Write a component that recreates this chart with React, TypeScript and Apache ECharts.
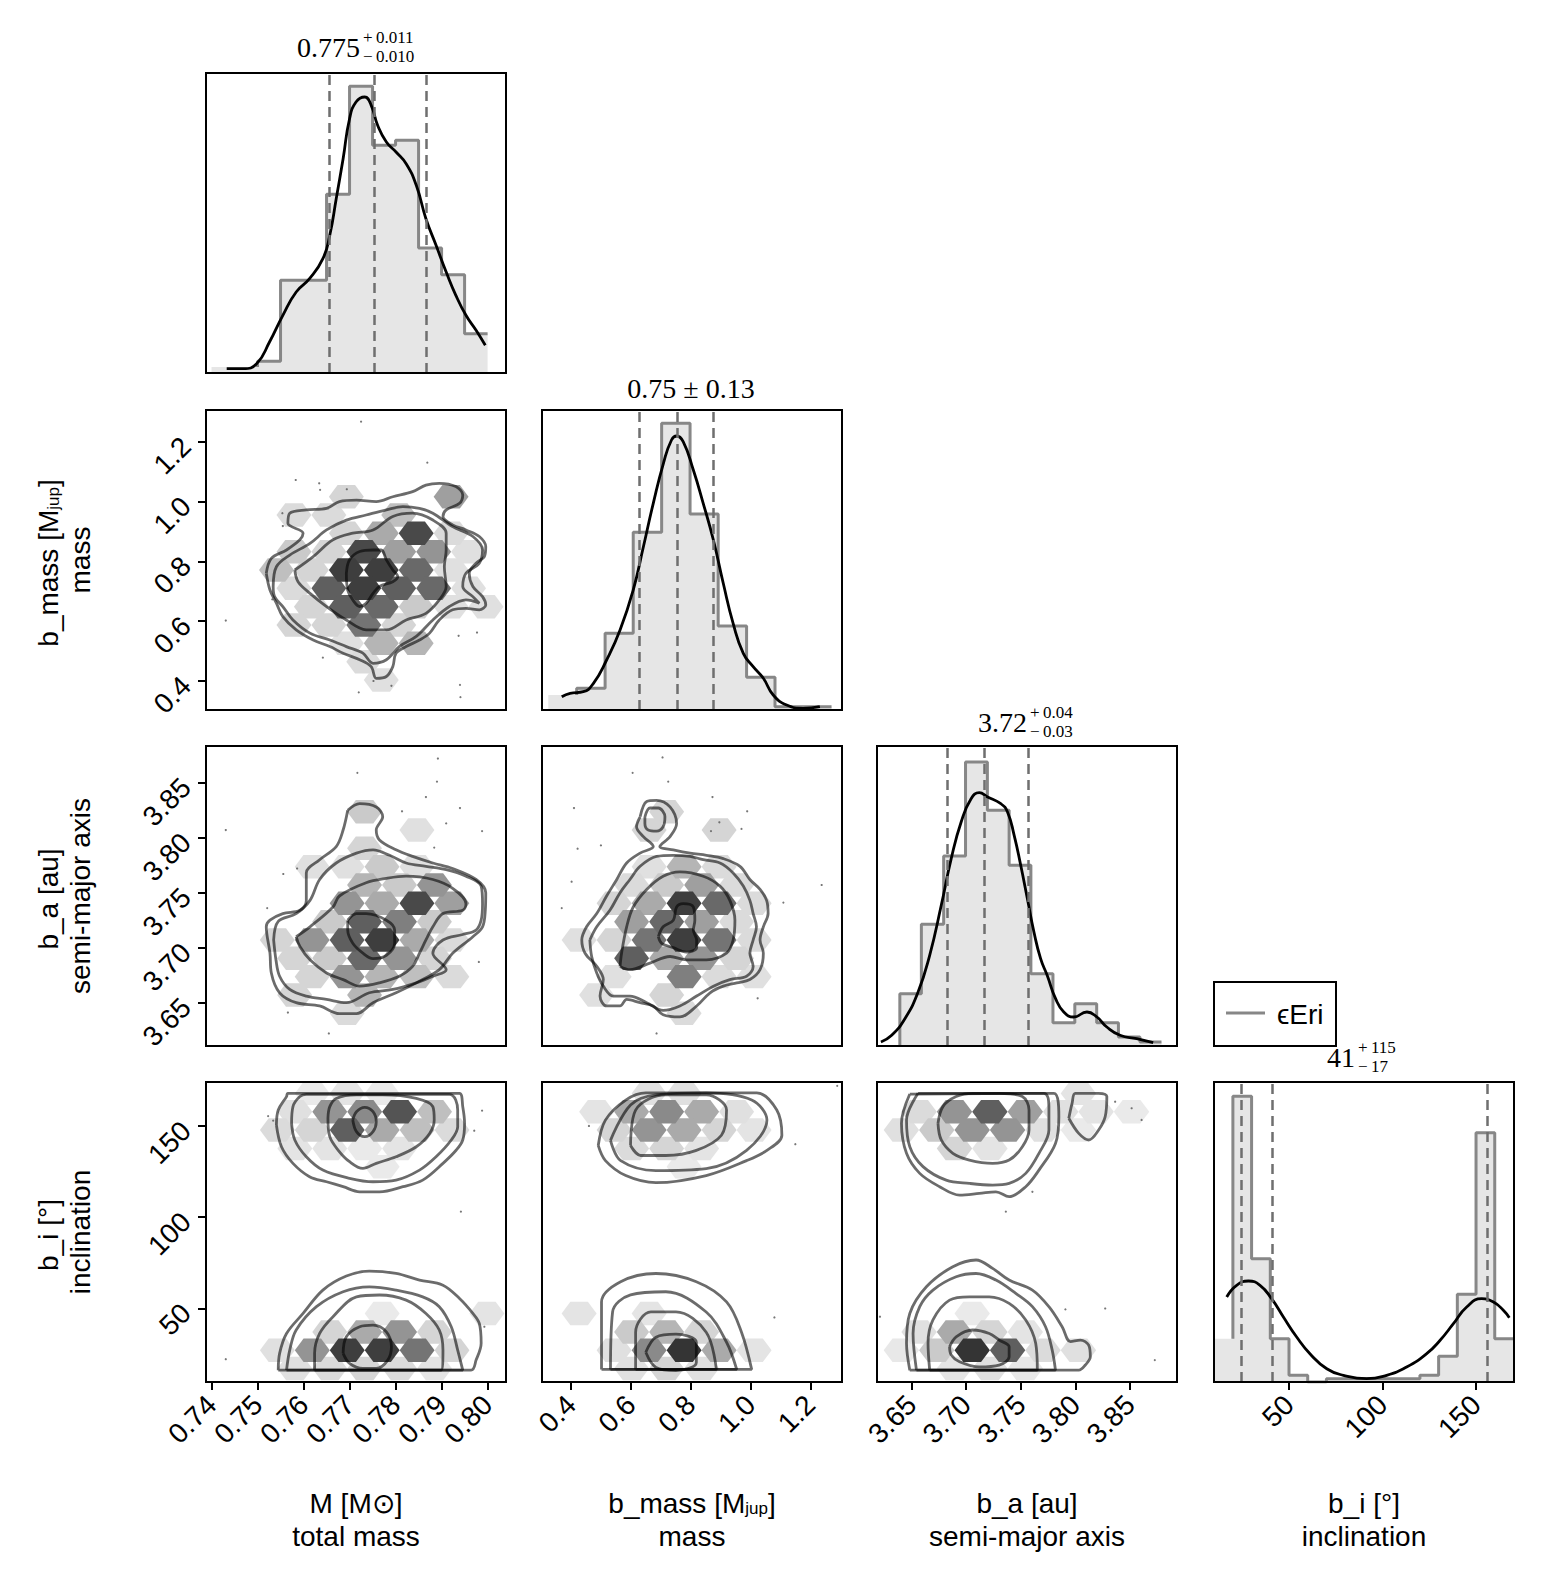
import React, { useEffect, useRef } from "react";
import * as echarts from "echarts";

const FONT = '"Liberation Sans", Arial, Helvetica, sans-serif';
const SERIF = '"Liberation Serif", "Times New Roman", serif';

// ---------------- axis limits ----------------
const M_LIM = [0.7388, 0.804];
const MASS_LIM = [0.303, 1.306];
const A_LIM_X = [3.6185, 3.893];
const A_LIM_Y = [3.6106, 3.8834];
const I_LIM_X = [9.9, 170.3];
const I_LIM_Y = [9.6, 174.1];
const HIST_LIM = [0, 300];

// ---------------- tick values ----------------
const M_TICKS = [0.74, 0.75, 0.76, 0.77, 0.78, 0.79, 0.8];
const MASS_TICKS = [0.4, 0.6, 0.8, 1.0, 1.2];
const A_TICKS = [3.65, 3.7, 3.75, 3.8, 3.85];
const I_TICKS = [50, 100, 150];

// ---------------- 1D histograms ----------------
const M_EDGES = [0.74, 0.745, 0.75, 0.755, 0.76, 0.765, 0.77, 0.775, 0.78, 0.785, 0.79, 0.795, 0.8];
const M_COUNTS = [6, 6, 11.7, 92.7, 92.7, 178.7, 286.7, 227.7, 232.7, 125, 98.3, 39.3];
const M_QUANT = [0.7655, 0.7753, 0.7866];
const M_KDE = [[0.7433, 4.3], [0.7469, 4.3], [0.7498, 9.3], [0.7526, 31], [0.7555, 57.7], [0.7584, 81], [0.7613, 94.3], [0.7642, 114.3], [0.7657, 137.7], [0.7671, 174.3], [0.7686, 214.3], [0.77, 254.3], [0.7714, 271], [0.7733, 276], [0.7747, 267.7], [0.7761, 247.7], [0.778, 231], [0.7801, 221], [0.7823, 209.3], [0.7845, 187.7], [0.7866, 154.3], [0.7888, 127.7], [0.791, 101], [0.7931, 77.7], [0.7953, 57.7], [0.7975, 42.7], [0.7995, 27.7]];

const MASS_EDGES = [0.324, 0.419, 0.514, 0.608, 0.703, 0.798, 0.892, 0.987, 1.082, 1.176, 1.271];
const MASS_COUNTS = [15, 21.7, 76.7, 177.7, 286.7, 196, 84, 32.7, 3.3, 3.3];
const MASS_QUANT = [0.628, 0.755, 0.8755];
const MASS_KDE = [[0.369, 13.3], [0.397, 16.7], [0.441, 18.3], [0.475, 26.7], [0.519, 50], [0.564, 80], [0.608, 120], [0.642, 163.3], [0.675, 206.7], [0.709, 246.7], [0.736, 270], [0.753, 274], [0.775, 268.3], [0.809, 240], [0.842, 206.7], [0.876, 170], [0.909, 126.7], [0.942, 86.7], [0.976, 56.7], [1.009, 43.3], [1.043, 31.7], [1.076, 15], [1.121, 5], [1.176, 1.7], [1.232, 3.3]];

const A_EDGES = [3.6197, 3.6394, 3.6591, 3.6795, 3.6995, 3.7195, 3.7394, 3.7593, 3.7795, 3.7995, 3.8195, 3.8394, 3.8591, 3.8788];
const A_COUNTS = [0, 52.3, 121.7, 190, 284, 235.7, 180.7, 72.3, 23.3, 42.3, 23.3, 9, 4];
const A_QUANT = [3.683, 3.717, 3.757];
const A_KDE = [[3.6221, 4], [3.6319, 10.7], [3.644, 27.3], [3.6561, 54], [3.6667, 90.7], [3.6773, 140.7], [3.6864, 187.3], [3.6955, 224], [3.7046, 247.3], [3.7121, 253.3], [3.7197, 249], [3.7318, 242.3], [3.7379, 234], [3.744, 210.7], [3.75, 180.7], [3.7561, 147.3], [3.7621, 114], [3.7682, 87.3], [3.7742, 70.7], [3.7819, 47.3], [3.7894, 34], [3.7985, 29], [3.8106, 34], [3.8197, 29], [3.8288, 19], [3.8409, 10.7], [3.8561, 7.3], [3.8712, 3.3]];

const I_EDGES = [10, 20, 30, 40, 50, 60, 70, 80, 90, 100, 110, 120, 130, 140, 150, 160, 170];
const I_COUNTS = [43.3, 285.7, 123.3, 43.3, 6.7, 0, 3.3, 3.3, 3.3, 3.3, 3.3, 6.7, 25.7, 87.7, 249.3, 43.3];
const I_QUANT = [24.3, 41.3, 156.1];
const I_KDE = [[16.7, 85], [22.0, 96.7], [28.3, 101], [34.5, 96.7], [40.7, 83.3], [47.0, 65], [54.1, 45], [61.2, 28.3], [70.2, 13.3], [79.1, 6.7], [91.5, 3.3], [102.2, 6.7], [112.9, 15], [123.6, 28.3], [130.8, 41.7], [137.9, 58.3], [145.0, 75], [153.0, 83.3], [159.3, 80], [164.6, 71.7], [167.8, 64.3]];

// ---------------- hexbin grids (bin geometry in data units) and cells [col, row, density] ----------------
const HEXGRID_10 = { x0: 0.7693, dx: 0.00759, y0: 1.0163, dy: 0.0613 };
const HEX_10 = [[0, 0, 0.15], [3, 0, 0.4], [-2, 1, 0.12], [-1, 1, 0.12], [1, 1, 0.25], [0, 2, 0.15], [1, 2, 0.35], [2, 2, 0.8], [3, 2, 0.12], [-2, 3, 0.2], [-1, 3, 0.15], [0, 3, 0.8], [1, 3, 0.4], [2, 3, 0.45], [3, 3, 0.1], [-2, 4, 0.25], [-1, 4, 0.15], [0, 4, 0.85], [1, 4, 0.85], [2, 4, 0.65], [3, 4, 0.1], [-2, 5, 0.12], [-1, 5, 0.7], [0, 5, 0.85], [1, 5, 0.7], [2, 5, 0.65], [3, 5, 0.1], [-1, 6, 0.15], [0, 6, 0.7], [1, 6, 0.65], [2, 6, 0.2], [3, 6, 0.1], [4, 6, 0.1], [-2, 7, 0.15], [-1, 7, 0.15], [0, 7, 0.6], [1, 7, 0.15], [0, 8, 0.1], [1, 8, 0.3], [2, 8, 0.3], [0, 9, 0.12], [1, 10, 0.1]];

const HEXGRID_20 = { x0: 0.77326, dx: 0.00759, y0: 3.8237, dy: 0.01667 };
const HEX_20 = [[0, 0, 0.2], [1, 1, 0.1], [0, 2, 0.15], [-2, 3, 0.1], [-1, 3, 0.1], [0, 3, 0.2], [1, 3, 0.1], [0, 4, 0.3], [1, 4, 0.2], [2, 4, 0.45], [-1, 5, 0.45], [0, 5, 0.35], [1, 5, 0.8], [2, 5, 0.4], [-1, 6, 0.2], [0, 6, 0.7], [1, 6, 0.55], [2, 6, 0.2], [-3, 7, 0.15], [-2, 7, 0.45], [-1, 7, 0.7], [0, 7, 0.85], [1, 7, 0.35], [2, 7, 0.12], [-2, 8, 0.15], [-1, 8, 0.2], [0, 8, 0.65], [1, 8, 0.45], [2, 8, 0.15], [-2, 9, 0.15], [-1, 9, 0.45], [0, 9, 0.3], [1, 9, 0.25], [2, 9, 0.12], [-2, 10, 0.15], [0, 10, 0.3], [-1, 11, 0.12]];

const HEXGRID_21 = { x0: 0.7196, dx: 0.117, y0: 3.8237, dy: 0.01667 };
const HEX_21 = [[0, 0, 0.15], [-1, 1, 0.15], [1, 1, 0.15], [-1, 3, 0.1], [0, 3, 0.3], [1, 3, 0.12], [-1, 4, 0.12], [0, 4, 0.2], [1, 4, 0.4], [2, 4, 0.12], [-2, 5, 0.15], [-1, 5, 0.35], [0, 5, 0.85], [1, 5, 0.65], [2, 5, 0.12], [-1, 6, 0.4], [0, 6, 0.65], [1, 6, 0.4], [2, 6, 0.12], [-3, 7, 0.1], [-2, 7, 0.15], [-1, 7, 0.6], [0, 7, 0.85], [1, 7, 0.6], [2, 7, 0.12], [-1, 8, 0.7], [0, 8, 0.35], [1, 8, 0.45], [2, 8, 0.15], [-2, 9, 0.1], [0, 9, 0.55], [1, 9, 0.12], [2, 9, 0.1], [-2, 10, 0.1], [0, 10, 0.15], [0, 11, 0.12]];

const HEXGRID_30 = { x0: 0.7657, dx: 0.00759, y0: 157.8, dy: 10.06 };
const HEX_30 = [[-1, -1, 0.05], [0, -1, 0.08], [1, -1, 0.05], [-1, 0, 0.1], [0, 0, 0.45], [1, 0, 0.5], [2, 0, 0.75], [3, 0, 0.25], [-2, 1, 0.12], [-1, 1, 0.15], [0, 1, 0.7], [1, 1, 0.35], [2, 1, 0.25], [3, 1, 0.12], [-1, 2, 0.08], [0, 2, 0.08], [1, 2, 0.05], [2, 2, 0.08], [1, 3, 0.05], [1, 11, 0.05], [4, 11, 0.08], [0, 12, 0.15], [1, 12, 0.35], [2, 12, 0.45], [3, 12, 0.15], [-2, 13, 0.1], [-1, 13, 0.45], [0, 13, 0.85], [1, 13, 0.85], [2, 13, 0.6], [3, 13, 0.15], [-1, 14, 0.1], [0, 14, 0.12], [1, 14, 0.15], [2, 14, 0.12], [3, 14, 0.08]];

const HEXGRID_31 = { x0: 0.7196, dx: 0.117, y0: 157.8, dy: 10.06 };
const HEX_31 = [[-1, -1, 0.1], [0, -1, 0.1], [-2, 0, 0.08], [-1, 0, 0.35], [0, 0, 0.5], [1, 0, 0.35], [2, 0, 0.1], [-2, 1, 0.15], [-1, 1, 0.45], [0, 1, 0.35], [1, 1, 0.15], [2, 1, 0.08], [-1, 2, 0.12], [0, 2, 0.15], [1, 2, 0.08], [0, 3, 0.05], [-3, 11, 0.08], [-1, 11, 0.08], [-1, 12, 0.2], [0, 12, 0.3], [1, 12, 0.15], [-2, 13, 0.1], [-1, 13, 0.5], [0, 13, 0.9], [1, 13, 0.35], [2, 13, 0.08], [-1, 14, 0.1], [0, 14, 0.15], [1, 14, 0.1]];

const HEXGRID_32 = { x0: 3.7218, dx: 0.0324, y0: 157.8, dy: 10.06 };
const HEX_32 = [[2, -1, 0.08], [-2, 0, 0.12], [-1, 0, 0.45], [0, 0, 0.7], [1, 0, 0.4], [2, 0, 0.1], [3, 0, 0.08], [4, 0, 0.05], [-3, 1, 0.1], [-2, 1, 0.2], [-1, 1, 0.45], [0, 1, 0.45], [1, 1, 0.1], [2, 1, 0.05], [-1, 2, 0.15], [0, 2, 0.08], [-1, 11, 0.05], [-2, 12, 0.1], [-1, 12, 0.35], [0, 12, 0.15], [1, 12, 0.08], [-3, 13, 0.06], [-2, 13, 0.2], [-1, 13, 0.9], [0, 13, 0.7], [1, 13, 0.12], [2, 13, 0.1], [-1, 14, 0.08], [0, 14, 0.1], [1, 14, 0.06]];

// ---------------- contour loops ----------------
const CONT_10 = [
  [[0.7519, 0.76], [0.753, 0.81], [0.7563, 0.838], [0.7592, 0.872], [0.7599, 0.894], [0.7566, 0.927], [0.757, 0.961], [0.7606, 0.972], [0.765, 0.977], [0.7678, 1.0], [0.7715, 1.005], [0.7758, 1.0], [0.7794, 1.016], [0.7837, 1.033], [0.7866, 1.055], [0.7895, 1.061], [0.7931, 1.05], [0.7946, 1.022], [0.7939, 0.994], [0.791, 0.972], [0.7903, 0.95], [0.7924, 0.922], [0.7953, 0.905], [0.7982, 0.883], [0.7996, 0.849], [0.7993, 0.816], [0.7975, 0.794], [0.796, 0.76], [0.7968, 0.716], [0.7989, 0.682], [0.7996, 0.654], [0.7982, 0.638], [0.7953, 0.643], [0.7924, 0.638], [0.7895, 0.604], [0.7874, 0.56], [0.7852, 0.537], [0.7823, 0.515], [0.7801, 0.493], [0.7794, 0.448], [0.778, 0.415], [0.7758, 0.409], [0.7747, 0.448], [0.7722, 0.471], [0.7686, 0.493], [0.7657, 0.515], [0.7621, 0.537], [0.7584, 0.571], [0.7555, 0.615], [0.7541, 0.66], [0.7527, 0.704]],
  [[0.7534, 0.716], [0.7541, 0.782], [0.757, 0.821], [0.7614, 0.86], [0.765, 0.905], [0.7693, 0.938], [0.7736, 0.955], [0.778, 0.972], [0.7816, 0.983], [0.7852, 0.977], [0.7881, 0.961], [0.7924, 0.916], [0.7968, 0.883], [0.7989, 0.838], [0.7982, 0.794], [0.7953, 0.76], [0.7946, 0.716], [0.7968, 0.682], [0.7982, 0.66], [0.7953, 0.671], [0.7917, 0.649], [0.7881, 0.604], [0.7845, 0.549], [0.7808, 0.515], [0.778, 0.471], [0.7751, 0.459], [0.7729, 0.493], [0.7693, 0.515], [0.7657, 0.537], [0.7614, 0.56], [0.7577, 0.604], [0.7555, 0.649], [0.7537, 0.682]],
  [[0.7581, 0.771], [0.7621, 0.816], [0.7664, 0.872], [0.7707, 0.894], [0.7751, 0.905], [0.7794, 0.95], [0.7837, 0.961], [0.7881, 0.938], [0.791, 0.894], [0.791, 0.838], [0.7906, 0.782], [0.791, 0.716], [0.7895, 0.671], [0.7866, 0.626], [0.7823, 0.604], [0.778, 0.571], [0.7736, 0.571], [0.7693, 0.604], [0.765, 0.649], [0.7614, 0.693], [0.7588, 0.732]],
  [[0.7693, 0.76], [0.77, 0.805], [0.7722, 0.833], [0.7751, 0.838], [0.7769, 0.838], [0.778, 0.805], [0.7794, 0.771], [0.7805, 0.749], [0.7794, 0.732], [0.7765, 0.716], [0.7751, 0.693], [0.7736, 0.66], [0.7722, 0.649], [0.7707, 0.671], [0.7696, 0.704]],
];

const CONT_20 = [
  [[0.7696, 3.825], [0.7722, 3.831], [0.7758, 3.828], [0.7772, 3.819], [0.7758, 3.807], [0.7765, 3.798], [0.7801, 3.789], [0.7837, 3.783], [0.7881, 3.777], [0.7924, 3.772], [0.7975, 3.762], [0.7996, 3.75], [0.7995, 3.734], [0.7989, 3.719], [0.7968, 3.71], [0.7924, 3.695], [0.7895, 3.68], [0.7845, 3.668], [0.7801, 3.659], [0.7751, 3.65], [0.7715, 3.64], [0.7678, 3.64], [0.7635, 3.647], [0.7584, 3.65], [0.7548, 3.659], [0.753, 3.677], [0.7527, 3.695], [0.7519, 3.719], [0.7527, 3.725], [0.7555, 3.731], [0.7592, 3.734], [0.7606, 3.743], [0.7606, 3.768], [0.7635, 3.78], [0.7671, 3.792], [0.7686, 3.807]],
  [[0.7535, 3.707], [0.7545, 3.724], [0.7584, 3.731], [0.7614, 3.743], [0.7635, 3.762], [0.7671, 3.777], [0.7715, 3.786], [0.7751, 3.789], [0.7787, 3.784], [0.7823, 3.777], [0.7866, 3.774], [0.791, 3.771], [0.7953, 3.765], [0.7986, 3.756], [0.7989, 3.74], [0.7986, 3.725], [0.7975, 3.716], [0.7946, 3.712], [0.7903, 3.707], [0.7881, 3.695], [0.791, 3.68], [0.7881, 3.674], [0.7845, 3.668], [0.7794, 3.662], [0.7743, 3.659], [0.7693, 3.65], [0.765, 3.653], [0.7606, 3.656], [0.757, 3.662], [0.7548, 3.674], [0.754, 3.689]],
  [[0.7584, 3.71], [0.7614, 3.719], [0.7664, 3.737], [0.7678, 3.747], [0.7736, 3.759], [0.778, 3.763], [0.7823, 3.765], [0.7881, 3.762], [0.7924, 3.754], [0.7953, 3.74], [0.7946, 3.734], [0.7903, 3.731], [0.7881, 3.719], [0.7866, 3.707], [0.7852, 3.695], [0.7837, 3.683], [0.7808, 3.674], [0.7765, 3.668], [0.7722, 3.665], [0.7686, 3.671], [0.765, 3.677], [0.7614, 3.689], [0.7592, 3.701]],
  [[0.7696, 3.725], [0.7715, 3.731], [0.7736, 3.731], [0.778, 3.725], [0.7798, 3.716], [0.7798, 3.704], [0.778, 3.693], [0.7751, 3.69], [0.7729, 3.695], [0.7707, 3.704], [0.7696, 3.716]],
];

const CONT_21 = [
  [[0.631, 3.819], [0.653, 3.833], [0.686, 3.834], [0.731, 3.828], [0.753, 3.813], [0.731, 3.801], [0.697, 3.792], [0.742, 3.789], [0.798, 3.786], [0.853, 3.784], [0.909, 3.781], [0.965, 3.774], [0.998, 3.762], [1.032, 3.753], [1.054, 3.743], [1.059, 3.731], [1.043, 3.719], [1.032, 3.707], [1.043, 3.695], [1.032, 3.68], [0.998, 3.671], [0.954, 3.668], [0.909, 3.665], [0.865, 3.659], [0.82, 3.647], [0.764, 3.637], [0.708, 3.639], [0.675, 3.647], [0.631, 3.65], [0.586, 3.653], [0.564, 3.647], [0.519, 3.647], [0.497, 3.656], [0.508, 3.671], [0.486, 3.683], [0.447, 3.695], [0.436, 3.707], [0.452, 3.719], [0.486, 3.731], [0.519, 3.747], [0.553, 3.762], [0.586, 3.777], [0.631, 3.786], [0.675, 3.792], [0.642, 3.801], [0.619, 3.81]],
  [[0.463, 3.707], [0.486, 3.719], [0.53, 3.734], [0.564, 3.75], [0.597, 3.762], [0.631, 3.774], [0.686, 3.783], [0.742, 3.784], [0.798, 3.783], [0.842, 3.78], [0.898, 3.777], [0.942, 3.768], [0.976, 3.756], [0.998, 3.743], [1.009, 3.731], [1.02, 3.719], [1.009, 3.707], [0.998, 3.695], [1.009, 3.683], [0.987, 3.674], [0.931, 3.671], [0.876, 3.665], [0.82, 3.656], [0.764, 3.647], [0.708, 3.643], [0.653, 3.65], [0.597, 3.656], [0.541, 3.656], [0.508, 3.665], [0.486, 3.677], [0.469, 3.692]],
  [[0.647, 3.819], [0.664, 3.827], [0.692, 3.827], [0.714, 3.819], [0.708, 3.81], [0.686, 3.806], [0.658, 3.807], [0.647, 3.813]],
  [[0.564, 3.683], [0.569, 3.695], [0.586, 3.719], [0.608, 3.737], [0.653, 3.753], [0.708, 3.765], [0.764, 3.769], [0.842, 3.765], [0.898, 3.756], [0.931, 3.743], [0.948, 3.725], [0.942, 3.707], [0.92, 3.695], [0.853, 3.689], [0.786, 3.689], [0.731, 3.692], [0.664, 3.686], [0.597, 3.68]],
  [[0.692, 3.71], [0.708, 3.719], [0.742, 3.725], [0.753, 3.737], [0.775, 3.74], [0.809, 3.737], [0.814, 3.725], [0.809, 3.716], [0.82, 3.707], [0.82, 3.7], [0.786, 3.696], [0.742, 3.7], [0.703, 3.704]],
];

const CONT_30 = [
  [[0.7541, 150.5], [0.7545, 158.7], [0.7563, 166.1], [0.7566, 167.9], [0.7939, 167.9], [0.7946, 160.6], [0.795, 151.4], [0.7946, 142.3], [0.7932, 136.8], [0.7903, 129.5], [0.7859, 120.3], [0.7816, 116.7], [0.7765, 113.9], [0.7722, 113.9], [0.7686, 116.7], [0.765, 119.4], [0.7613, 122.2], [0.7577, 129.5], [0.7552, 138.6]],
  [[0.7574, 151.4], [0.7577, 160.6], [0.7592, 166.1], [0.7606, 167.3], [0.7917, 167.3], [0.7935, 158.7], [0.7935, 149.6], [0.7921, 142.3], [0.7888, 133.1], [0.7852, 125.8], [0.7801, 120.3], [0.7751, 119.4], [0.77, 121.3], [0.7642, 125.8], [0.7606, 133.1], [0.7581, 142.3]],
  [[0.7653, 154.2], [0.7657, 160.6], [0.7671, 165.1], [0.7715, 167.0], [0.7772, 167.0], [0.7845, 165.1], [0.7881, 160.6], [0.7884, 153.3], [0.7874, 145.9], [0.7845, 138.6], [0.7801, 133.1], [0.7758, 129.5], [0.7729, 126.7], [0.77, 130.4], [0.7675, 136.8], [0.7657, 144.1]],
  [[0.7707, 153.3], [0.7715, 157.8], [0.7733, 160.2], [0.7751, 157.8], [0.7758, 152.3], [0.7751, 146.9], [0.7733, 144.1], [0.7715, 146.9]],
  [[0.7545, 16.1], [0.7548, 25.3], [0.7563, 36.2], [0.7599, 47.2], [0.7642, 60.0], [0.7693, 67.7], [0.7743, 70.4], [0.7801, 69.1], [0.7852, 65.5], [0.7903, 62.7], [0.7939, 55.4], [0.7968, 47.2], [0.7982, 41.7], [0.7986, 30.8], [0.7975, 21.6], [0.7964, 16.1]],
  [[0.7563, 16.1], [0.757, 27.1], [0.7584, 38.1], [0.7628, 50.9], [0.7686, 59.1], [0.7743, 61.8], [0.7801, 60.0], [0.7859, 56.3], [0.7895, 50.9], [0.7921, 39.9], [0.7935, 27.1], [0.7946, 16.1]],
  [[0.7624, 16.1], [0.7624, 25.3], [0.7635, 36.2], [0.7664, 45.4], [0.7715, 56.3], [0.7765, 57.3], [0.7823, 54.5], [0.7866, 47.2], [0.7895, 38.1], [0.7903, 27.1], [0.7899, 16.1]],
  [[0.7686, 25.3], [0.7693, 34.4], [0.7722, 39.9], [0.7751, 40.8], [0.778, 37.1], [0.7791, 28.9], [0.7783, 21.6], [0.7758, 17.0], [0.7729, 17.0], [0.77, 19.8]],
];

const CONT_31 = [
  [[0.491, 139.3], [0.515, 153.2], [0.583, 164.2], [0.65, 168.1], [1.021, 168.1], [1.088, 158.7], [1.105, 144.9], [1.055, 136.6], [0.987, 131.0], [0.852, 122.8], [0.684, 118.9], [0.583, 122.8], [0.515, 131.0]],
  [[0.532, 142.1], [0.599, 161.5], [0.684, 167.0], [0.852, 168.1], [1.004, 164.2], [1.055, 153.2], [0.987, 136.6], [0.852, 126.6], [0.684, 125.5], [0.566, 131.0]],
  [[0.599, 139.3], [0.616, 158.7], [0.717, 167.0], [0.852, 167.0], [0.92, 158.7], [0.903, 144.9], [0.819, 136.6], [0.717, 133.8], [0.633, 133.8]],
  [[0.502, 16.5], [0.502, 53.5], [0.566, 64.6], [0.684, 69.1], [0.819, 64.6], [0.92, 53.5], [0.97, 36.9], [1.004, 16.5]],
  [[0.532, 16.5], [0.539, 48.0], [0.599, 57.4], [0.717, 59.1], [0.852, 48.0], [0.92, 31.4], [0.954, 16.5]],
  [[0.616, 16.5], [0.616, 36.9], [0.667, 48.0], [0.751, 48.0], [0.852, 36.9], [0.886, 16.5]],
  [[0.65, 25.9], [0.684, 34.2], [0.751, 35.8], [0.819, 31.4], [0.819, 20.3], [0.751, 15.9], [0.684, 17.6]],
];

const CONT_32 = [
  [[3.6485, 167.5], [3.6409, 151.4], [3.6455, 135.0], [3.6576, 124.0], [3.6758, 116.7], [3.694, 112.1], [3.7121, 113.0], [3.7273, 113.9], [3.7394, 111.2], [3.7546, 116.7], [3.7667, 125.8], [3.7818, 140.4], [3.7849, 155.1], [3.7803, 167.9]],
  [[3.6561, 167.9], [3.6455, 153.3], [3.6485, 138.6], [3.6606, 127.7], [3.6818, 120.3], [3.703, 118.5], [3.7243, 117.6], [3.7394, 118.5], [3.7546, 124.0], [3.7667, 135.0], [3.7758, 147.8], [3.7758, 160.6], [3.7712, 167.9]],
  [[3.6743, 151.4], [3.6788, 160.6], [3.6909, 166.1], [3.7061, 167.9], [3.7303, 167.9], [3.7515, 166.1], [3.7576, 158.7], [3.7576, 147.8], [3.7515, 138.6], [3.7394, 131.3], [3.7243, 129.5], [3.703, 131.3], [3.6879, 135.0], [3.6773, 142.3]],
  [[3.794, 154.2], [3.797, 162.4], [3.8, 167.9], [3.8213, 167.9], [3.8288, 166.1], [3.8273, 155.1], [3.8213, 147.8], [3.8122, 142.3], [3.8031, 145.9]],
  [[3.6485, 16.1], [3.6455, 30.8], [3.6485, 47.2], [3.6637, 61.8], [3.6879, 72.8], [3.7091, 76.5], [3.7243, 71.9], [3.7394, 65.5], [3.7607, 60.0], [3.7758, 50.9], [3.7879, 39.9], [3.7955, 31.7], [3.8046, 32.6], [3.8122, 29.8], [3.8137, 23.4], [3.8091, 18.9], [3.8031, 16.1]],
  [[3.6546, 16.1], [3.6515, 36.2], [3.6576, 50.9], [3.6697, 60.0], [3.6909, 67.3], [3.7091, 69.1], [3.7273, 65.5], [3.7455, 58.2], [3.7607, 50.9], [3.7727, 39.9], [3.7788, 27.1], [3.7818, 16.1]],
  [[3.6667, 16.1], [3.6652, 30.8], [3.6697, 43.6], [3.6849, 54.5], [3.703, 56.3], [3.7212, 56.3], [3.7394, 52.7], [3.7546, 43.6], [3.7637, 30.8], [3.7652, 16.1]],
  [[3.6849, 28.9], [3.6909, 34.4], [3.7061, 38.1], [3.7212, 36.2], [3.7303, 32.6], [3.7394, 28.9], [3.7394, 23.4], [3.7303, 18.9], [3.7121, 17.9], [3.694, 20.7], [3.6864, 24.4]],
];

// ---------------- outlier samples ----------------
const DOTS_10 = [[0.7725, 1.267], [0.7869, 1.13], [0.7583, 1.072], [0.7634, 1.061], [0.7636, 1.039], [0.7694, 1.041], [0.7554, 0.961], [0.7555, 0.918], [0.7532, 0.673], [0.7431, 0.602], [0.7642, 0.478], [0.7937, 0.551], [0.7977, 0.562], [0.772, 0.362], [0.7752, 0.4], [0.7791, 0.384], [0.794, 0.387], [0.7941, 0.346]];
const DOTS_20 = [[0.7892, 3.872], [0.7717, 3.859], [0.789, 3.851], [0.7866, 3.837], [0.794, 3.827], [0.7814, 3.824], [0.791, 3.813], [0.7988, 3.806], [0.7431, 3.807], [0.7884, 3.791], [0.7586, 3.772], [0.7556, 3.767], [0.7521, 3.736], [0.7981, 3.687], [0.7566, 3.641], [0.7655, 3.622]];
const DOTS_21 = [[0.706, 3.873], [0.606, 3.859], [0.725, 3.851], [0.873, 3.837], [0.41, 3.827], [0.989, 3.824], [0.896, 3.814], [0.868, 3.806], [0.97, 3.808], [0.422, 3.79], [0.5, 3.793], [0.402, 3.76], [0.369, 3.736], [1.238, 3.757], [1.11, 3.741], [1.024, 3.654], [0.686, 3.622]];
const DOTS_30 = [[0.7523, 155.4], [0.7534, 152.9], [0.7988, 158.4], [0.7971, 147.4], [0.7942, 103.0], [0.7431, 22.1], [0.7993, 39.9]];
const DOTS_31 = [[1.29, 172], [0.46, 150], [1.15, 140], [1.08, 45]];
const DOTS_32 = [[3.8364, 163.3], [3.8515, 159.7], [3.8606, 153.3], [3.7364, 103.0], [3.7909, 49.4], [3.8273, 49.9], [3.8727, 21.6], [3.6212, 45.4], [3.7607, 113.9]];

// ---------------- text ----------------
const DIAG_TITLES = [
  { main: "0.775", up: "+\u20090.011", down: "\u2212\u20090.010" },
  { main: "0.75 \u00b1 0.13" },
  { main: "3.72", up: "+\u20090.04", down: "\u2212\u20090.03" },
  { main: "41", up: "+\u2009115", down: "\u2212\u200917" },
];
const LABEL_LINE1 = ["M [M\u2299]", "b_mass [M{s|jup}]", "b_a [au]", "b_i [\u00b0]"];
const LABEL_LINE2 = ["total mass", "mass", "semi-major axis", "inclination"];
const LEGEND_NAME = "\u03f5Eri";

// ---------------- layout ----------------
const COL_LEFT = [206, 542, 877, 1214];
const ROW_TOP = [73, 410, 746, 1082];
const SIZE = 300;

const LIMITS: Record<string, number[]> = { M: M_LIM, mass: MASS_LIM, aX: A_LIM_X, aY: A_LIM_Y, iX: I_LIM_X, iY: I_LIM_Y, H: HIST_LIM };
const TICKS: Record<string, number[]> = { M: M_TICKS, mass: MASS_TICKS, aX: A_TICKS, aY: A_TICKS, iX: I_TICKS, iY: I_TICKS, H: [] };
const DECIMALS: Record<string, number> = { M: 2, mass: 1, aX: 2, aY: 2, iX: 0, iY: 0, H: 0 };

const PANELS = [
  { r: 0, c: 0, x: "M", y: "H" },
  { r: 1, c: 0, x: "M", y: "mass" },
  { r: 1, c: 1, x: "mass", y: "H" },
  { r: 2, c: 0, x: "M", y: "aY" },
  { r: 2, c: 1, x: "mass", y: "aY" },
  { r: 2, c: 2, x: "aX", y: "H" },
  { r: 3, c: 0, x: "M", y: "iY" },
  { r: 3, c: 1, x: "mass", y: "iY" },
  { r: 3, c: 2, x: "aX", y: "iY" },
  { r: 3, c: 3, x: "iX", y: "H" },
];

function makeAxis(g: number, key: string, show: boolean, margin: number) {
  const lim = LIMITS[key];
  const ticks = TICKS[key];
  const dec = DECIMALS[key];
  return {
    type: "value",
    gridIndex: g,
    min: lim[0],
    max: lim[1],
    axisLine: { show: false },
    splitLine: { show: false },
    axisTick: {
      show,
      inside: false,
      length: 8,
      lineStyle: { color: "#000", width: 2 },
      customValues: show ? ticks : undefined,
    },
    axisLabel: {
      show,
      rotate: 45,
      margin,
      fontSize: 28,
      fontFamily: FONT,
      color: "#000",
      customValues: show ? ticks : undefined,
      formatter: (v: number) => Number(v).toFixed(dec),
    },
  };
}

function histSeries(g: number, edges: number[], counts: number[], outlineFrom: number, kde: number[][], quants: number[]) {
  const fill: number[][] = [];
  counts.forEach((h, k) => {
    fill.push([edges[k], h], [edges[k + 1], h]);
  });
  const outline: number[][] = [[edges[outlineFrom], outlineFrom > 0 ? counts[outlineFrom - 1] : 0]];
  for (let k = outlineFrom; k < counts.length; k++) {
    outline.push([edges[k], counts[k]], [edges[k + 1], counts[k]]);
  }
  return [
    {
      type: "line", xAxisIndex: g, yAxisIndex: g, data: fill, symbol: "none", silent: true, z: 1,
      lineStyle: { width: 0 }, areaStyle: { color: "#e6e6e6", opacity: 1 },
    },
    {
      type: "line", xAxisIndex: g, yAxisIndex: g, data: outline, symbol: "none", silent: true, z: 2,
      lineStyle: { color: "#878787", width: 3 },
      markLine: {
        silent: true, symbol: ["none", "none"], label: { show: false }, precision: 6,
        lineStyle: { color: "#6f6f6f", width: 2.5, type: [10, 6] },
        data: quants.map((v) => ({ xAxis: v })),
      },
    },
    {
      type: "line", xAxisIndex: g, yAxisIndex: g, data: kde, symbol: "none", silent: true, z: 4,
      smooth: 0.5, lineStyle: { color: "#000", width: 2.8 },
    },
  ];
}

function hexSeries(g: number, grid: { x0: number; dx: number; y0: number; dy: number }, cells: number[][]) {
  const data = cells
    .slice()
    .sort((a, b) => a[2] - b[2])
    .map(([i, j, lvl]) => [grid.x0 + (i + (j % 2 !== 0 ? 0.5 : 0)) * grid.dx, grid.y0 - j * grid.dy, lvl]);
  return {
    type: "custom", xAxisIndex: g, yAxisIndex: g, clip: true, silent: true, z: 2,
    data,
    renderItem: (params: any, api: any) => {
      const c = api.coord([api.value(0), api.value(1)]);
      const sz = api.size([grid.dx, grid.dy]);
      const w = Math.abs(sz[0]);
      const hh = Math.abs(sz[1]) * 0.64;
      const lvl = api.value(2);
      const gv = Math.round(245 - lvl * 215);
      return {
        type: "polygon",
        shape: {
          points: [
            [c[0] - w / 2, c[1]], [c[0] - w / 4, c[1] - hh], [c[0] + w / 4, c[1] - hh],
            [c[0] + w / 2, c[1]], [c[0] + w / 4, c[1] + hh], [c[0] - w / 4, c[1] + hh],
          ],
        },
        style: { fill: `rgb(${gv},${gv},${gv})`, stroke: null },
      };
    },
  };
}

function contourSeries(g: number, loops: number[][][]) {
  return loops.map((loop) => ({
    type: "line", xAxisIndex: g, yAxisIndex: g, data: [...loop, loop[0]], symbol: "none", silent: true, z: 3,
    smooth: 0.35, lineStyle: { color: "rgba(0,0,0,0.58)", width: 2.8 },
  }));
}

function dotSeries(g: number, pts: number[][]) {
  return {
    type: "scatter", xAxisIndex: g, yAxisIndex: g, data: pts, symbolSize: 2.2, silent: true, z: 4,
    itemStyle: { color: "#555" },
  };
}

function buildOption() {
  const grid = PANELS.map((p) => ({
    left: COL_LEFT[p.c], top: ROW_TOP[p.r], width: SIZE, height: SIZE,
    show: true, borderColor: "#000", borderWidth: 2, backgroundColor: "rgba(0,0,0,0)", z: 10,
  }));
  const xAxis = PANELS.map((p, g) => makeAxis(g, p.x, p.r === 3, 18));
  const yAxis = PANELS.map((p, g) => makeAxis(g, p.y, p.c === 0 && p.r > 0, 20));

  const series: any[] = [
    ...histSeries(0, M_EDGES, M_COUNTS, 2, M_KDE, M_QUANT),
    ...histSeries(2, MASS_EDGES, MASS_COUNTS, 1, MASS_KDE, MASS_QUANT),
    ...histSeries(5, A_EDGES, A_COUNTS, 1, A_KDE, A_QUANT),
    ...histSeries(9, I_EDGES, I_COUNTS, 1, I_KDE, I_QUANT),
    hexSeries(1, HEXGRID_10, HEX_10),
    hexSeries(3, HEXGRID_20, HEX_20),
    hexSeries(4, HEXGRID_21, HEX_21),
    hexSeries(6, HEXGRID_30, HEX_30),
    hexSeries(7, HEXGRID_31, HEX_31),
    hexSeries(8, HEXGRID_32, HEX_32),
    ...contourSeries(1, CONT_10),
    ...contourSeries(3, CONT_20),
    ...contourSeries(4, CONT_21),
    ...contourSeries(6, CONT_30),
    ...contourSeries(7, CONT_31),
    ...contourSeries(8, CONT_32),
    dotSeries(1, DOTS_10),
    dotSeries(3, DOTS_20),
    dotSeries(4, DOTS_21),
    dotSeries(6, DOTS_30),
    dotSeries(7, DOTS_31),
    dotSeries(8, DOTS_32),
  ];

  const rich = { s: { fontSize: 17, fontFamily: FONT, fill: "#000", verticalAlign: "bottom" } };
  const elements: any[] = [];

  // titles above diagonal panels
  const titlePos = [
    { x: 360, y: 47, sx: 363, uy: 37, dy: 56 },
    { x: 691, y: 388 },
    { x: 1027, y: 722, sx: 1030, uy: 712, dy: 731 },
    { x: 1355, y: 1057, sx: 1358, uy: 1047, dy: 1066 },
  ];
  DIAG_TITLES.forEach((t, k) => {
    const pos: any = titlePos[k];
    elements.push({
      type: "text", x: pos.x, y: pos.y, z: 100,
      style: { text: t.main, font: `28px ${SERIF}`, fill: "#000", align: t.up ? "right" : "center", verticalAlign: "middle" },
    });
    if (t.up) {
      elements.push({ type: "text", x: pos.sx, y: pos.uy, z: 100, style: { text: t.up, font: `17px ${SERIF}`, fill: "#000", align: "left", verticalAlign: "middle" } });
      elements.push({ type: "text", x: pos.sx, y: pos.dy, z: 100, style: { text: t.down, font: `17px ${SERIF}`, fill: "#000", align: "left", verticalAlign: "middle" } });
    }
  });

  // bottom axis titles
  for (let c = 0; c < 4; c++) {
    elements.push({ type: "text", x: COL_LEFT[c] + SIZE / 2, y: 1503, z: 100, style: { text: LABEL_LINE1[c], font: `28px ${FONT}`, fill: "#000", align: "center", verticalAlign: "middle", rich } });
    elements.push({ type: "text", x: COL_LEFT[c] + SIZE / 2, y: 1536, z: 100, style: { text: LABEL_LINE2[c], font: `28px ${FONT}`, fill: "#000", align: "center", verticalAlign: "middle" } });
  }
  // left axis titles (rows 1..3 share the variable of columns 1..3)
  for (let r = 1; r < 4; r++) {
    elements.push({ type: "text", x: 48, y: ROW_TOP[r] + SIZE / 2 + 3, rotation: Math.PI / 2, z: 100, style: { text: LABEL_LINE1[r], font: `28px ${FONT}`, fill: "#000", align: "center", verticalAlign: "middle", rich } });
    elements.push({ type: "text", x: 80, y: ROW_TOP[r] + SIZE / 2, rotation: Math.PI / 2, z: 100, style: { text: LABEL_LINE2[r], font: `28px ${FONT}`, fill: "#000", align: "center", verticalAlign: "middle" } });
  }

  // legend box
  elements.push({ type: "rect", x: 1214, y: 982, z: 100, shape: { width: 122, height: 64 }, style: { fill: "#fff", stroke: "#000", lineWidth: 2 } });
  elements.push({ type: "line", z: 101, shape: { x1: 1226, y1: 1013, x2: 1265, y2: 1013 }, style: { stroke: "#878787", lineWidth: 3 } });
  elements.push({ type: "text", x: 1277, y: 1014, z: 101, style: { text: LEGEND_NAME, font: `28px ${FONT}`, fill: "#000", align: "left", verticalAlign: "middle" } });

  return {
    animation: false,
    backgroundColor: "#ffffff",
    grid,
    xAxis,
    yAxis,
    series,
    graphic: { elements },
  };
}

export default function App() {
  const ref = useRef<HTMLDivElement>(null);
  useEffect(() => {
    if (!ref.current) return;
    const chart = echarts.init(ref.current, undefined, { renderer: "svg" });
    chart.setOption(buildOption() as any);
    return () => chart.dispose();
  }, []);
  return <div ref={ref} style={{ position: "absolute", left: 0, top: 0, width: 1546, height: 1582, background: "#fff" }} />;
}
